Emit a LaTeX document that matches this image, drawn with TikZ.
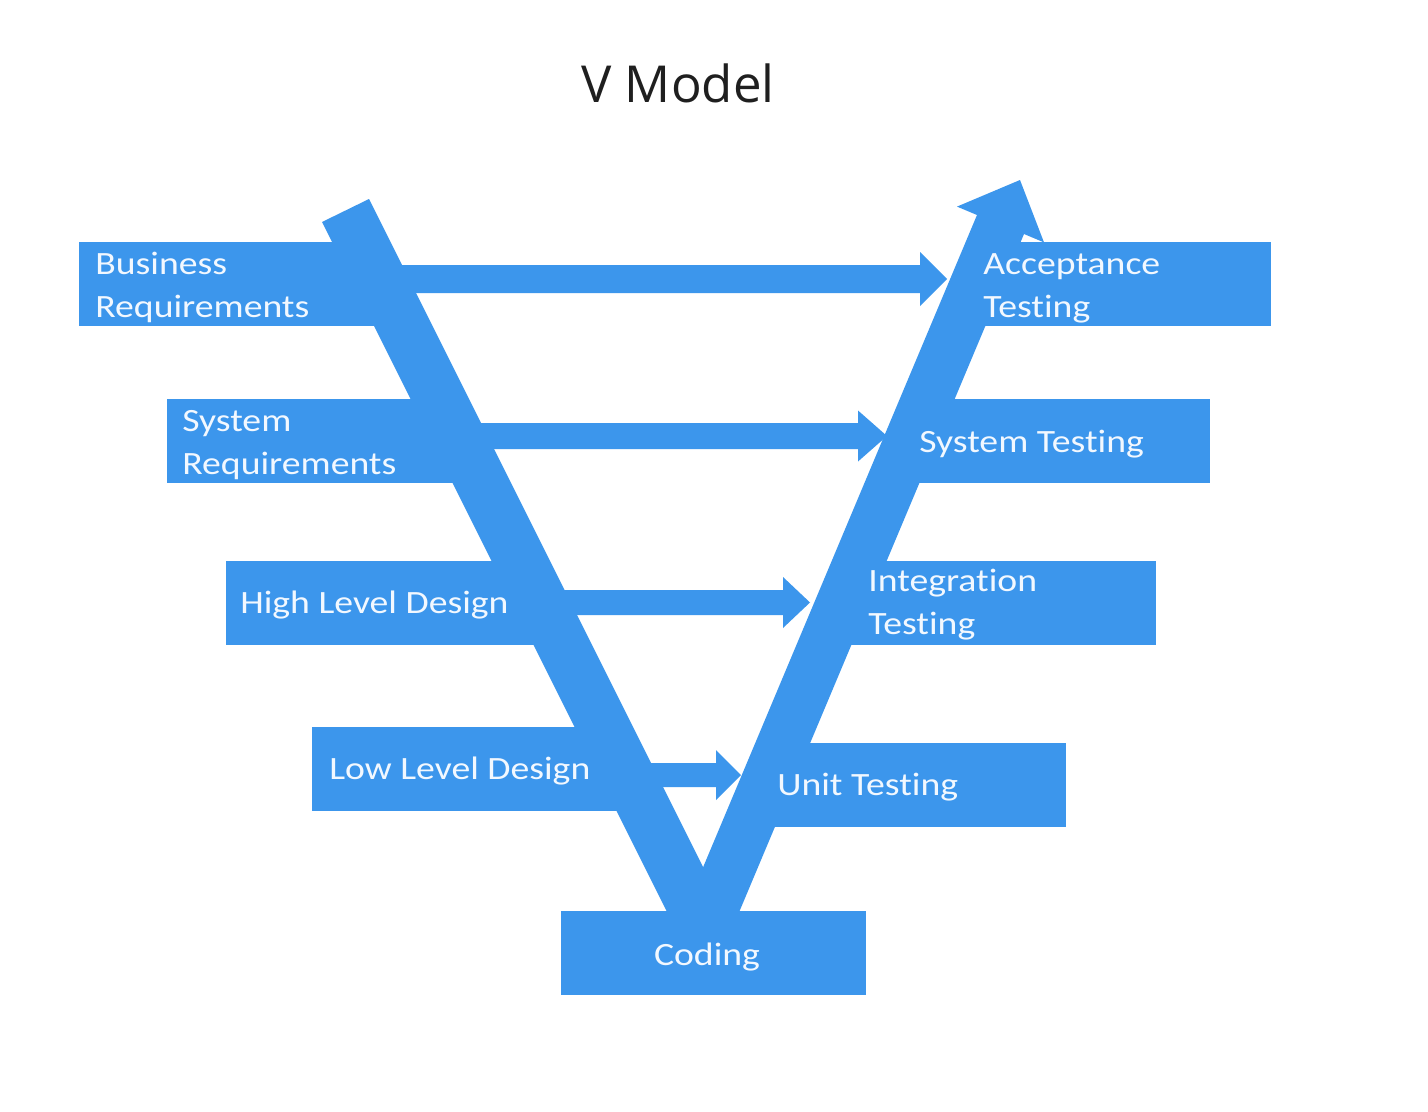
\documentclass[tikz,border=0pt]{standalone}
\usepackage{fontspec}
\setmainfont[FakeStretch=1.16,Ligatures={NoCommon}]{Carlito}
\newfontfamily\titlefont{Open Sans}
\definecolor{vblue}{HTML}{3C96EC}
\definecolor{vtext}{HTML}{F2F8FF}
\begin{document}
\begin{tikzpicture}[x=0.02cm,y=-0.02cm,
  boxfill/.style={fill=vblue},
  blockarrow/.style={fill=vblue},
  lbl/.style={text=vtext,font=\fontsize{18.5}{24}\selectfont,anchor=base west,inner sep=0pt},
  clbl/.style={text=vtext,font=\fontsize{18.5}{24}\selectfont,anchor=base,inner sep=0pt}]
\useasboundingbox[fill=white] (0,0) rectangle (1428,1112);
% title
\node[font=\titlefont\fontsize{29}{34}\selectfont,text=black!88,anchor=base,inner sep=0pt] (title) at (678,102) {V Model};
% boxes (left)
\fill[boxfill] (79,242) rectangle (382,326);
\fill[boxfill] (167,399) rectangle (460,483);
\fill[boxfill] (226,561) rectangle (542,645);
\fill[boxfill] (312,727) rectangle (625,811);
% boxes (right)
\fill[boxfill] (975,242) rectangle (1271,326);
\fill[boxfill] (909,399) rectangle (1210,483);
\fill[boxfill] (841,561) rectangle (1156,645);
\fill[boxfill] (765,743) rectangle (1066,827);
% horizontal block arrows
\fill[blockarrow] (380,265) -- (920,265) -- (920,252) -- (947,279) -- (920,306) -- (920,293) -- (380,293) -- cycle;
\fill[blockarrow] (460,423) -- (858,423) -- (858,410.5) -- (887,436) -- (858,461.5) -- (858,449) -- (460,449) -- cycle;
\fill[blockarrow] (540,590) -- (783,590) -- (783,577) -- (810,602.5) -- (783,628) -- (783,615) -- (540,615) -- cycle;
\fill[blockarrow] (630,763) -- (716,763) -- (716,750) -- (741,775) -- (716,800) -- (716,787) -- (630,787) -- cycle;
% the V
\fill[blockarrow] (322,222) -- (369,199) -- (703.1,867.2) -- (977,215) -- (957,206.6) -- (1020,180)
  -- (1044,242.4) -- (1024,234) -- (727.4,940) -- (681,940) -- cycle;
% coding box
\fill[boxfill] (561,911) rectangle (866,995);
% labels
\node[lbl] (br1) at (95,274) {Business};
\node[lbl] (br2) at (95,317) {Requirements};
\node[lbl] (sr1) at (182,431) {System};
\node[lbl] (sr2) at (182,474) {Requirements};
\node[lbl] (hld) at (240,613) {High Level Design};
\node[lbl] (lld) at (329,779) {Low Level Design};
\node[clbl] (cod) at (707,965) {Coding};
\node[lbl] (ut) at (777,795) {Unit Testing};
\node[lbl] (it1) at (868,591) {Integration};
\node[lbl] (it2) at (868,634) {Testing};
\node[lbl] (st) at (919,452) {System Testing};
\node[lbl] (at1) at (983,274) {Acceptance};
\node[lbl] (at2) at (983,317) {Testing};
\end{tikzpicture}
\end{document}
